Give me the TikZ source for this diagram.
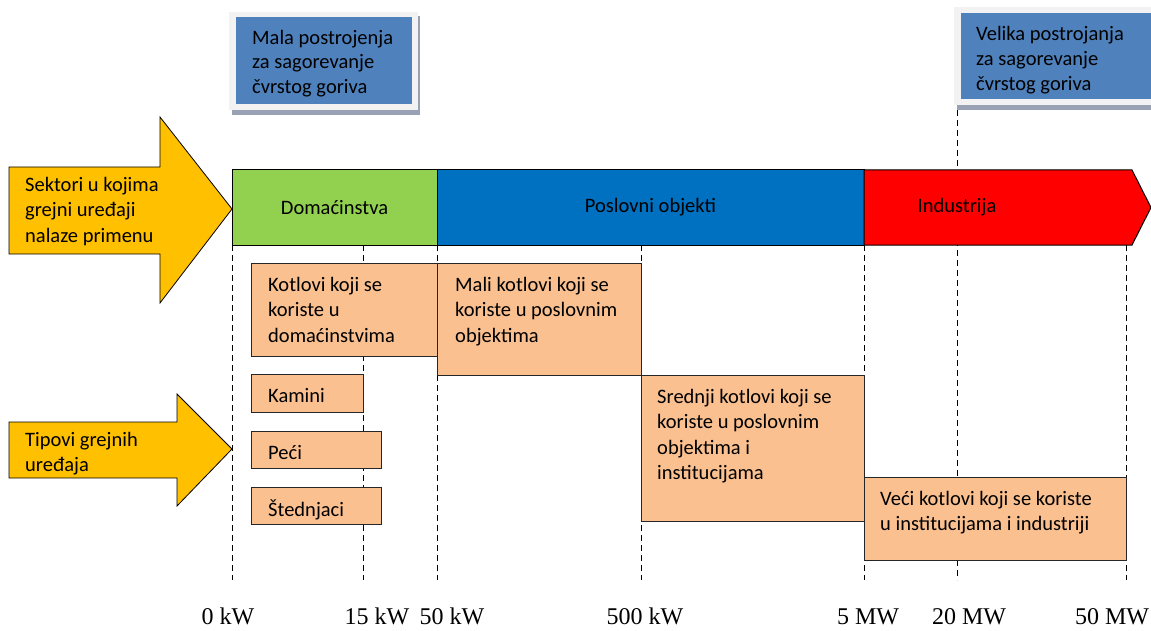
\documentclass[tikz,border=0pt]{standalone}
\usepackage{fontspec}
\setmainfont{Carlito}
\newfontfamily\axisfont{Liberation Serif}
\usepackage{xcolor}
\usepackage{tikz}
\usetikzlibrary{positioning}

\definecolor{domgreen}{HTML}{92D050}
\definecolor{bizblue}{HTML}{0070C0}
\definecolor{indred}{HTML}{FF0000}
\definecolor{sectyellow}{HTML}{FFC000}
\definecolor{boxorange}{HTML}{FAC090}
\definecolor{plantblue}{HTML}{4F81BD}
\definecolor{plantframe}{HTML}{F2F2F2}
\definecolor{plantshadow}{HTML}{98A2B4}

\begin{document}
\begin{tikzpicture}[
  x=1pt, y=-1pt,
  txt/.style={font=\fontsize{20.5}{25.5}\selectfont, inner sep=0pt, align=left, anchor=north west},
  seg/.style={draw=black, line width=1pt, minimum height=75pt, inner sep=0pt, outer sep=0pt, anchor=north west, font=\fontsize{20.5}{24}\selectfont},
  obox/.style={draw=black!85, line width=1pt, fill=boxorange, inner sep=0pt, outer sep=0pt, anchor=north west},
  plant/.style={fill=plantblue, inner sep=0pt, outer sep=0pt, anchor=north west},
  guide/.style={dash pattern=on 6pt off 4pt, line width=0.8pt},
  tick/.style={font=\axisfont\fontsize{24}{28}\selectfont, inner sep=0pt, anchor=base},
  bigarrow/.style={fill=sectyellow, draw=black, line width=0.8pt}
]
\useasboundingbox (0,0) rectangle (1151,631);
\clip (0,0) rectangle (1151,631);

% guide lines
\draw[guide] (957,110) -- (957,580);
\draw[guide] (232,245) -- (232,580);
\draw[guide] (363,245) -- (363,580);
\draw[guide] (437,245) -- (437,580);
\draw[guide] (641,245) -- (641,580);
\draw[guide] (864,245) -- (864,580);
\draw[guide] (1126,245) -- (1126,580);

% plants
\fill[plantshadow] (232,16) rectangle (420,115);
\fill[plantframe] (229,12) rectangle (418,110);
\node[plant, minimum width=176pt, minimum height=87pt] (small) at (236,17) {};
\node[txt, font=\fontsize{20.5}{24.5}\selectfont] (smalltxt) at (252,30) {Mala postrojenja\\za sagorevanje\\čvrstog goriva};

\fill[plantshadow] (957,11) rectangle (1160,110);
\fill[plantframe] (954,7) rectangle (1160,105);
\node[plant, minimum width=200pt, minimum height=86pt] (large) at (961,13) {};
\node[txt, font=\fontsize{20.5}{25}\selectfont] (largetxt) at (976,26) {Velika postrojanja\\za sagorevanje\\čvrstog goriva};

% sectors
\filldraw[bigarrow] (9,167) -- (160,167) -- (160,117) -- (232,209) -- (160,303) -- (160,254) -- (9,254) -- cycle;
\node[txt] (sect) at (25,177) {Sektori u kojima\\grejni uređaji\\nalaze primenu};

\node[seg, fill=domgreen, minimum width=205pt] (dom) at (232,170) {Domaćinstva};
\node[seg, fill=bizblue, minimum width=427pt] (biz) at (437,170) {Poslovni objekti};
\filldraw[fill=indred, draw=black, line width=1pt] (864,170) -- (1132,170) -- (1151,207.5) -- (1132,245) -- (864,245) -- cycle;
\node[font=\fontsize{20.5}{24}\selectfont, inner sep=0pt] (ind) at (957,207.5) {Industrija};

% types
\filldraw[bigarrow] (9,422) -- (177,422) -- (177,394) -- (232,449) -- (177,506) -- (177,478) -- (9,478) -- cycle;
\node[txt] (types) at (25,432) {Tipovi grejnih\\uređaja};

\node[obox, minimum width=186pt, minimum height=93pt] (k1) at (251,263) {};
\node[txt] (k1t) at (268,277) {Kotlovi koji se\\koriste u\\domaćinstvima};
\node[obox, minimum width=204pt, minimum height=112pt] (k2) at (437,263) {};
\node[txt] (k2t) at (455,277) {Mali kotlovi koji se\\koriste u poslovnim\\objektima};
\node[obox, minimum width=112pt, minimum height=38pt] (kam) at (251,374) {};
\node[txt] (kamt) at (268,388) {Kamini};
\node[obox, minimum width=130pt, minimum height=37pt] (pec) at (251,431) {};
\node[txt] (pect) at (268,445) {Peći};
\node[obox, minimum width=130pt, minimum height=37pt] (sted) at (251,487) {};
\node[txt] (stedt) at (268,500) {Štednjaci};
\node[obox, minimum width=223pt, minimum height=146pt] (k3) at (641,375) {};
\node[txt] (k3t) at (657,389) {Srednji kotlovi koji se\\koriste u poslovnim\\objektima i\\institucijama};
\node[obox, minimum width=262pt, minimum height=83pt] (k4) at (864,477) {};
\node[txt] (k4t) at (880,491) {Veći kotlovi koji se koriste\\u institucijama i industriji};

% power scale
\node[tick] (p0) at (228,624) {0 kW};
\node[tick] (p15) at (377,624) {15 kW};
\node[tick] (p50) at (452,624) {50 kW};
\node[tick] (p500) at (645,624) {500 kW};
\node[tick] (p5m) at (868,624) {5 MW};
\node[tick] (p20m) at (969,624) {20 MW};
\node[tick] (p50m) at (1112,624) {50 MW};
\end{tikzpicture}
\end{document}
